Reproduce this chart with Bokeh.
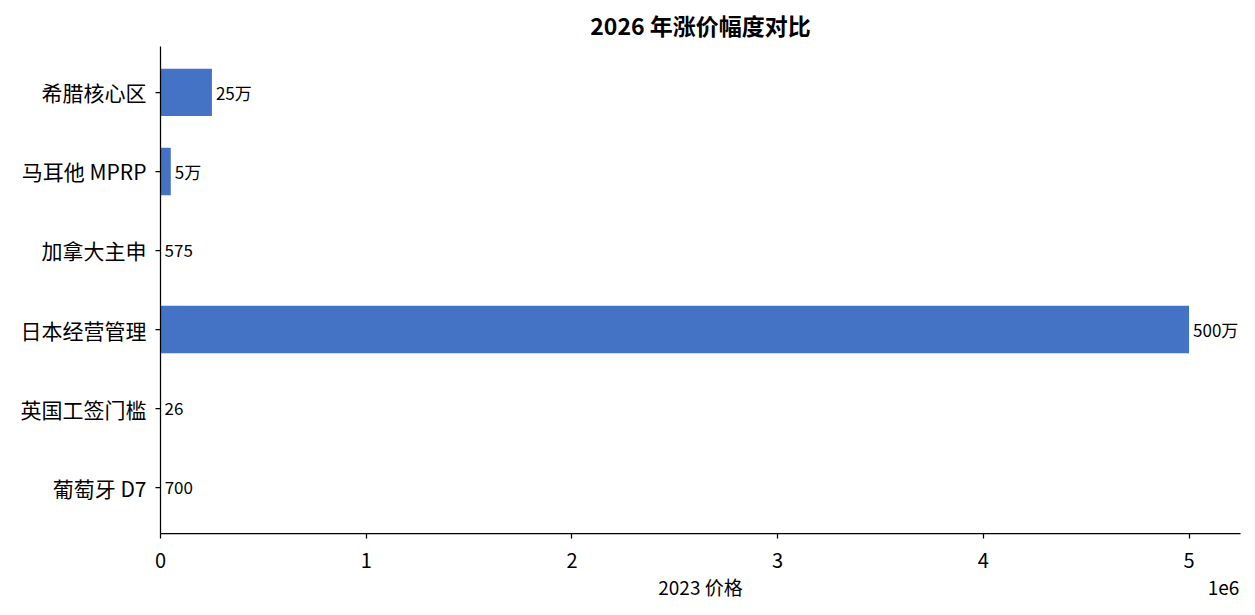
from bokeh.plotting import figure
from bokeh.models import ColumnDataSource, FixedTicker, Range1d, LabelSet, LinearAxis
from bokeh.core.properties import value
from bokeh.embed import file_html
from bokeh.resources import INLINE

categories = ["葡萄牙 D7", "英国工签门槛", "日本经营管理", "加拿大主申", "马耳他 MPRP", "希腊核心区"]
prices_2023 = [700, 26, 5000000, 575, 50000, 250000]
value_labels = ["700", "26", "500万", "575", "5万", "25万"]
x_ticks = [0, 1000000, 2000000, 3000000, 4000000, 5000000]
x_tick_labels = ["0", "1", "2", "3", "4", "5"]
x_axis_title = "2023 价格"
x_offset_text = "1e6"

FONT = "Noto Sans CJK SC"
X_MAX = 5250000
Y_MIN, Y_MAX = -0.58, 5.58

pos = list(range(len(categories)))
src = ColumnDataSource(dict(y=pos, v=prices_2023, lab=value_labels, cat=categories))

p = figure(width=1247, height=607, output_backend="svg", toolbar_location=None,
           x_range=Range1d(0, X_MAX), y_range=Range1d(Y_MIN, Y_MAX),
           min_border_left=160, min_border_right=7, min_border_top=45, min_border_bottom=74)
p.title.text = "2026 年涨价幅度对比"
p.title.align = "center"
p.title.text_font = FONT
p.title.text_font_size = "23px"
p.title.text_font_style = "bold"
p.title.text_color = "black"

p.hbar(y="y", left=0, right="v", height=0.6, source=src, color="#4472C4", line_color=None)

labels = LabelSet(x="v", y="y", text="lab", source=src, x_offset=4, text_baseline="middle",
                  text_font=value(FONT), text_font_size="17px", text_color="black")
p.add_layout(labels)

p.xgrid.visible = False
p.ygrid.visible = False
p.outline_line_color = None

p.xaxis.ticker = FixedTicker(ticks=x_ticks)
p.xaxis.major_label_overrides = {t: l for t, l in zip(x_ticks, x_tick_labels)}
p.yaxis.ticker = FixedTicker(ticks=pos)
p.yaxis.major_label_overrides = {i: c for i, c in zip(pos, categories)}

for ax in (p.xaxis[0], p.yaxis[0]):
    ax.axis_line_color = "black"
    ax.axis_line_width = 1.25
    ax.major_tick_line_color = "black"
    ax.major_tick_line_width = 1.25
    ax.major_tick_in = 0
    ax.major_tick_out = 5
    ax.minor_tick_line_color = None
    ax.major_label_text_font = FONT
    ax.major_label_text_color = "black"

p.xaxis.major_label_text_font_size = "20px"
p.yaxis.major_label_text_font_size = "21px"
p.xaxis.major_label_standoff = 14
p.yaxis.major_label_standoff = 9

# second row under the x axis: axis title (centred) and the scale offset (right end)
title_pos = X_MAX // 2
offset_pos = int(X_MAX * 0.9843)
axis2 = LinearAxis(ticker=FixedTicker(ticks=[title_pos, offset_pos]),
                   major_label_overrides={title_pos: x_axis_title, offset_pos: x_offset_text},
                   axis_line_color=None, major_tick_line_color=None, minor_tick_line_color=None,
                   major_tick_in=0, major_tick_out=0, major_label_standoff=2,
                   major_label_text_font=FONT, major_label_text_font_size="19px",
                   major_label_text_color="black")
p.add_layout(axis2, "below")

open("out.html", "w").write(file_html(p, INLINE))
